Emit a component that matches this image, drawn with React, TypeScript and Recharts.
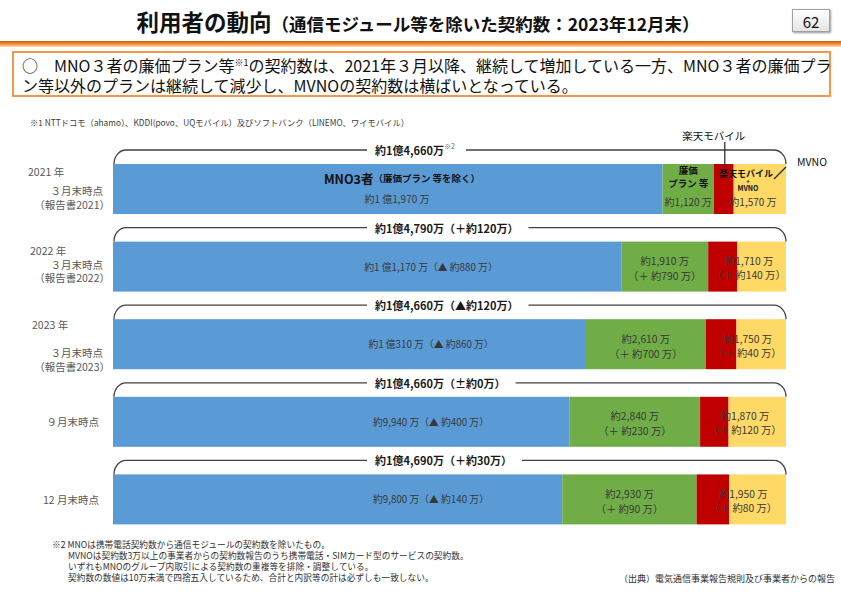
import React from 'react';
import { BarChart, Bar, XAxis, YAxis } from 'recharts';

const FONT = '"Noto Sans CJK JP", "Noto Sans", sans-serif';

// categories and tick labels
const periods = ['2021-03', '2022-03', '2023-03', '2023-09', '2023-12'];
const yearLabels = ['2021 年', '2022 年', '2023 年', '', ''];
const monthLabels = ['３月末時点', '３月末時点', '３月末時点', '９月末時点', '12 月末時点'];
const reportLabels = ['（報告書2021）', '（報告書2022）', '（報告書2023）', '', ''];

// contracts, 万 (rakuten / mvno split)
const mnoValues = [11970, 11170, 10310, 9940, 9800];
const lowCostValues = [1120, 1910, 2610, 2840, 2930];
const rakutenValues = [430, 640, 670, 620, 710];
const mvnoValues = [1140, 1070, 1080, 1250, 1240];

const totalLabels = [
  '約1億4,660万',
  '約1億4,790万（＋約120万）',
  '約1億4,660万（▲約120万）',
  '約1億4,660万（±約0万）',
  '約1億4,690万（＋約30万）',
];
const mnoLabels = [
  '約1 億1,970 万',
  '約1 億1,170 万（▲ 約880 万）',
  '約1 億310 万（▲ 約860 万）',
  '約9,940 万（▲ 約400 万）',
  '約9,800 万（▲ 約140 万）',
];
const lowCostLabels = ['約1,120 万', '約1,910 万', '約2,610 万', '約2,840 万', '約2,930 万'];
const lowCostDiffLabels = ['', '（＋ 約790 万）', '（＋ 約700 万）', '（＋ 約230 万）', '（＋ 約90 万）'];
const otherLabels = ['約1,570 万', '約1,710 万', '約1,750 万', '約1,870 万', '約1,950 万'];
const otherDiffLabels = ['', '（＋ 約140 万）', '（＋ 約40 万）', '（＋ 約120 万）', '（＋ 約80 万）'];

const rows = periods.map((period, i) => ({
  period,
  i,
  mno: mnoValues[i],
  lowCost: lowCostValues[i],
  rakuten: rakutenValues[i],
  mvno: mvnoValues[i],
}));

const W = 841;
const H = 593;
const YAXIS_W = 113;
const PLOT_LEFT = YAXIS_W;

const LABEL_COLOR = '#383838';

let ctx: CanvasRenderingContext2D | null = null;
const measure = (s: string, font: string) => {
  if (!ctx) ctx = document.createElement('canvas').getContext('2d');
  if (!ctx) return s.length * 10;
  ctx.font = font;
  return ctx.measureText(s).width;
};

const PeriodTick = (props: any) => {
  const { y, payload } = props;
  const i = periods.indexOf(payload.value);
  const t = { fontSize: 10.5, fill: '#595959', fontFamily: FONT };
  if (!yearLabels[i]) {
    return (
      <text x={YAXIS_W - 14} y={y} textAnchor="end" dominantBaseline="central" {...t}>
        {monthLabels[i]}
      </text>
    );
  }
  const off = i === 0 ? [-17, 2, 16] : i === 1 ? [-16, -2, 11] : [-20, 8, 22];
  return (
    <g>
      <text x={28 + i * 2} y={y + off[0]} dominantBaseline="central" {...t}>{yearLabels[i]}</text>
      <text x={YAXIS_W - 10} y={y + off[1]} textAnchor="end" dominantBaseline="central" {...t}>{monthLabels[i]}</text>
      <text x={YAXIS_W - 3} y={y + off[2]} textAnchor="end" dominantBaseline="central" {...t}>{reportLabels[i]}</text>
    </g>
  );
};

const MnoShape = (props: any) => {
  const { x, y, width, height, fill, payload } = props;
  const i = payload.i;
  const cy = y + height / 2;
  return (
    <g>
      <rect x={x} y={y} width={width} height={height} fill={fill} />
      {i === 0 ? (
        <g fontFamily={FONT}>
          <text x={x + 289} y={cy - 11} textAnchor="middle" dominantBaseline="central" fill="#111" fontWeight="bold">
            <tspan fontSize={12.5}>MNO3者</tspan>
            <tspan fontSize={9.5}>（廉価プラン 等を除く）</tspan>
          </text>
          <text x={x + 284} y={cy + 9} textAnchor="middle" dominantBaseline="central" fill={LABEL_COLOR} fontSize={10}>
            {mnoLabels[i]}
          </text>
        </g>
      ) : (
        <text x={x + 318} y={cy} textAnchor="middle" dominantBaseline="central" fill={LABEL_COLOR} fontSize={9.8} fontFamily={FONT}>
          {mnoLabels[i]}
        </text>
      )}
    </g>
  );
};

const LowCostShape = (props: any) => {
  const { x, y, width, height, fill, payload } = props;
  const i = payload.i;
  const cx = x + width / 2;
  const cy = y + height / 2;
  return (
    <g fontFamily={FONT}>
      <rect x={x} y={y} width={width} height={height} fill={fill} />
      {i === 0 ? (
        <g textAnchor="middle" dominantBaseline="central">
          <text x={cx} y={cy - 19} fontSize={9.5} fontWeight="bold" fill="#111">廉価</text>
          <text x={cx} y={cy - 6} fontSize={9.5} fontWeight="bold" fill="#111">プラン 等</text>
          <text x={cx} y={cy + 12} fontSize={10} fill={LABEL_COLOR}>{lowCostLabels[i]}</text>
        </g>
      ) : (
        <g textAnchor="middle" dominantBaseline="central" fontSize={10.3} fill={LABEL_COLOR}>
          <text x={cx} y={cy - 6}>{lowCostLabels[i]}</text>
          <text x={cx} y={cy + 9}>{lowCostDiffLabels[i]}</text>
        </g>
      )}
    </g>
  );
};

const RakutenShape = (props: any) => {
  const { x, y, width, height, fill } = props;
  return <rect x={x} y={y} width={width} height={height} fill={fill} />;
};

const MvnoShape = (props: any) => {
  const { x, y, width, height, fill, payload } = props;
  const i = payload.i;
  const right = x + width;
  const redW = (width * payload.rakuten) / payload.mvno;
  const cx = (x - redW + right) / 2;
  const cy = y + height / 2;

  // bracket over the whole bar
  const ly = y - 14;
  const r = 12;
  const tx = PLOT_LEFT + 262;
  const font = `bold 11px ${FONT}`;
  const tw = measure(totalLabels[i], font) + (i === 0 ? measure('※2', `7px ${FONT}`) + 1 : 0);
  const left = `M${PLOT_LEFT + 1},${y} A${r},${14} 0 0 1 ${PLOT_LEFT + 1 + r},${ly} L${tx - 8},${ly}`;
  const rightPath = `M${tx + tw + 10},${ly} L${right - r},${ly} A${r},${14} 0 0 1 ${right},${y}`;

  return (
    <g fontFamily={FONT}>
      <rect x={x} y={y} width={width} height={height} fill={fill} />
      <path d={left} fill="none" stroke="#404040" strokeWidth={1.3} />
      <path d={rightPath} fill="none" stroke="#404040" strokeWidth={1.3} />
      <text x={tx} y={ly} dominantBaseline="central" fontSize={11} fontWeight="bold" fill="#1a1a1a">
        {totalLabels[i]}
        {i === 0 && (
          <tspan fontSize={7} fontWeight="normal" fill="#666" dy={-4}>※2</tspan>
        )}
      </text>
      {i === 0 ? (
        <g textAnchor="middle">
          <text x={cx - 4} y={cy - 16} dominantBaseline="central" fontSize={9} fontWeight="bold" fill="#111">楽天モバイル</text>
          <text x={cx - 2} y={cy - 8} dominantBaseline="central" fontSize={6} fontWeight="bold" fill="#111">+</text>
          <text x={cx - 2} y={cy - 1} dominantBaseline="central" fontSize={7} fontWeight="bold" fill="#111">MVNO</text>
          <text x={cx + 3} y={cy + 12} dominantBaseline="central" fontSize={10} fill={LABEL_COLOR}>{otherLabels[i]}</text>
          {/* callouts */}
          <text x={x - redW / 2 - 10} y={y - 29} dominantBaseline="central" fontSize={10.5} fill="#111">楽天モバイル</text>
          <line x1={x - redW / 2 + 1} y1={y - 22} x2={x - redW / 2 + 1} y2={y + 3} stroke="#222" strokeWidth={1.2} />
          <text x={right + 11} y={y - 3} textAnchor="start" dominantBaseline="central" fontSize={10.5} fill="#111">MVNO</text>
          <line x1={right} y1={y + 3} x2={right - 12} y2={y + 15} stroke="#222" strokeWidth={1.2} />
        </g>
      ) : (
        <g textAnchor="middle" dominantBaseline="central" fontSize={10.3} fill={LABEL_COLOR}>
          <text x={cx + 2} y={cy - 6}>{otherLabels[i]}</text>
          <text x={cx + 2} y={cy + 8}>{otherDiffLabels[i]}</text>
        </g>
      )}
    </g>
  );
};

const abs = (s: React.CSSProperties): React.CSSProperties => ({ position: 'absolute', ...s });

export default function App() {
  return (
    <div style={abs({ left: 0, top: 0, width: W, height: H, background: '#fff', overflow: 'hidden', fontFamily: FONT, color: '#111' })}>
      <div style={abs({ left: 0, top: 0 })}>
        <BarChart
          layout="vertical"
          width={W}
          height={H}
          data={rows}
          stackOffset="expand"
          barSize={50}
          margin={{ top: 150, right: 55, bottom: 55, left: 0 }}
        >
          <XAxis type="number" hide />
          <YAxis type="category" dataKey="period" width={YAXIS_W} axisLine={false} tickLine={false} interval={0} tick={PeriodTick} />
          <Bar dataKey="mno" stackId="a" fill="#5B9BD5" isAnimationActive={false} shape={MnoShape} />
          <Bar dataKey="lowCost" stackId="a" fill="#70AD47" isAnimationActive={false} shape={LowCostShape} />
          <Bar dataKey="rakuten" stackId="a" fill="#C00000" isAnimationActive={false} shape={RakutenShape} />
          <Bar dataKey="mvno" stackId="a" fill="#FFD966" isAnimationActive={false} shape={MvnoShape} />
        </BarChart>
      </div>

      {/* title */}
      <div style={abs({ left: 0, top: 6, width: W - 5, textAlign: 'center', fontWeight: 'bold', whiteSpace: 'nowrap', lineHeight: '30px' })}>
        <span style={{ fontSize: 22.5 }}>利用者の動向</span>
        <span style={{ fontSize: 17.5 }}>（通信モジュール等を除いた契約数：2023年12月末）</span>
      </div>
      <div
        style={abs({
          left: 792, top: 9, width: 38, height: 23, border: '1px solid #a0a0a0',
          background: 'linear-gradient(to bottom, #ffffff, #e4e4e4)', boxShadow: '1px 1px 2px #999',
          fontSize: 15, lineHeight: '23px', textAlign: 'center', boxSizing: 'border-box',
        })}
      >
        62
      </div>
      <div style={abs({ left: 0, top: 41, width: W, height: 6, background: 'linear-gradient(to bottom, #C65A0A, #F28A2E 45%, #F9B77B 80%, #fde2c8)' })} />

      {/* summary box */}
      <div
        style={abs({
          left: 12, top: 51, width: 819, height: 46, border: '2px solid #F79646', boxSizing: 'border-box',
          fontSize: 16, lineHeight: '20px', padding: '2px 0 0 8px', whiteSpace: 'nowrap',
        })}
      >
        <div>
          ○　MNO３者の廉価プラン等<sup style={{ fontSize: 9, verticalAlign: 6, lineHeight: 0 }}>※1</sup>の契約数は、2021年３月以降、継続して増加している一方、MNO３者の廉価プラ
        </div>
        <div>ン等以外のプランは継続して減少し、MVNOの契約数は横ばいとなっている。</div>
      </div>

      <div style={abs({ left: 30, top: 116, fontSize: 8.3, color: '#404040', whiteSpace: 'nowrap' })}>
        ※1 NTTドコモ（ahamo）、KDDI(povo、UQモバイル）及びソフトバンク（LINEMO、ワイモバイル）
      </div>

      {/* notes */}
      <div style={abs({ left: 52, top: 539, fontSize: 8.7, lineHeight: '11px', color: '#303030', whiteSpace: 'nowrap' })}>
        <div>※2 MNOは携帯電話契約数から通信モジュールの契約数を除いたもの。</div>
        <div style={{ paddingLeft: 16 }}>MVNOは契約数3万以上の事業者からの契約数報告のうち携帯電話・SIMカード型のサービスの契約数。</div>
        <div style={{ paddingLeft: 16 }}>いずれもMNOのグループ内取引による契約数の重複等を排除・調整している。</div>
        <div style={{ paddingLeft: 16 }}>契約数の数値は10万未満で四捨五入しているため、合計と内訳等の計は必ずしも一致しない。</div>
      </div>
      <div style={abs({ left: 619, top: 572, fontSize: 9, color: '#303030', whiteSpace: 'nowrap' })}>
        （出典）電気通信事業報告規則及び事業者からの報告
      </div>
    </div>
  );
}
